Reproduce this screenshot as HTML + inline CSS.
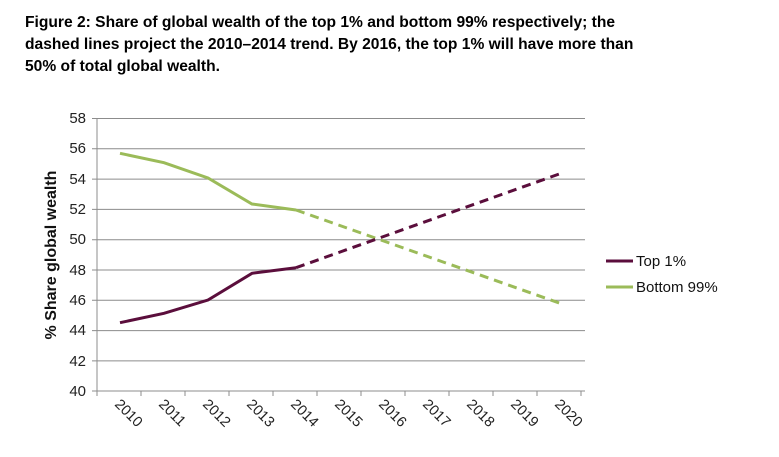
<!DOCTYPE html>
<html><head><style>
body{margin:0;background:#fff;width:779px;height:457px;overflow:hidden;font-family:"Liberation Sans",Arial,sans-serif}
.t{position:absolute;left:25px;top:12px;font-weight:bold;font-size:15.6px;line-height:22px;color:#000;white-space:nowrap}
</style></head><body>
<div class="t">Figure 2: Share of global wealth of the top 1% and bottom 99% respectively; the<br>dashed lines project the 2010–2014 trend. By 2016, the top 1% will have more than<br>50% of total global wealth.</div>
<svg width="779" height="457" style="position:absolute;left:0;top:0" font-family="Liberation Sans,Arial,sans-serif">
<g stroke="#8c8c8c" stroke-width="1">
<line x1="92" y1="118.5" x2="585" y2="118.5"/><line x1="92" y1="148.8" x2="585" y2="148.8"/>
<line x1="92" y1="179.1" x2="585" y2="179.1"/><line x1="92" y1="209.4" x2="585" y2="209.4"/>
<line x1="92" y1="239.7" x2="585" y2="239.7"/><line x1="92" y1="270" x2="585" y2="270"/>
<line x1="92" y1="300.3" x2="585" y2="300.3"/><line x1="92" y1="330.6" x2="585" y2="330.6"/>
<line x1="92" y1="360.9" x2="585" y2="360.9"/><line x1="92" y1="391" x2="585" y2="391"/>
<line x1="97" y1="118" x2="97" y2="391"/>
<line x1="97" y1="391" x2="97" y2="396"/><line x1="141" y1="391" x2="141" y2="396"/><line x1="185" y1="391" x2="185" y2="396"/><line x1="229" y1="391" x2="229" y2="396"/><line x1="273" y1="391" x2="273" y2="396"/><line x1="317" y1="391" x2="317" y2="396"/><line x1="361" y1="391" x2="361" y2="396"/><line x1="405" y1="391" x2="405" y2="396"/><line x1="449" y1="391" x2="449" y2="396"/><line x1="493" y1="391" x2="493" y2="396"/><line x1="537" y1="391" x2="537" y2="396"/><line x1="581" y1="391" x2="581" y2="396"/>
</g>
<g font-size="15" fill="#222" text-anchor="end">
<text x="86" y="123">58</text><text x="86" y="153">56</text><text x="86" y="184">54</text><text x="86" y="214">52</text><text x="86" y="244">50</text><text x="86" y="275">48</text><text x="86" y="305">46</text><text x="86" y="335">44</text><text x="86" y="366">42</text><text x="86" y="396">40</text>
</g>
<g font-size="14.5" fill="#222">
<text transform="translate(114,405) rotate(45)">2010</text><text transform="translate(158,405) rotate(45)">2011</text><text transform="translate(202,405) rotate(45)">2012</text><text transform="translate(246,405) rotate(45)">2013</text><text transform="translate(290,405) rotate(45)">2014</text><text transform="translate(334,405) rotate(45)">2015</text><text transform="translate(378,405) rotate(45)">2016</text><text transform="translate(422,405) rotate(45)">2017</text><text transform="translate(466,405) rotate(45)">2018</text><text transform="translate(510,405) rotate(45)">2019</text><text transform="translate(554,405) rotate(45)">2020</text>
</g>
<text transform="translate(56,255) rotate(-90)" text-anchor="middle" font-size="16" font-weight="bold" fill="#111">% Share global wealth</text>
<polyline points="120,153.3 164,162.7 208,178 252,204 296,210" fill="none" stroke="#9bbb59" stroke-width="3"/>
<line x1="296" y1="210" x2="562" y2="304" stroke="#9bbb59" stroke-width="3" stroke-dasharray="9,6"/>
<polyline points="120,322.7 164,313.3 208,300 252,273.3 296,267.7" fill="none" stroke="#5b0e3c" stroke-width="3"/>
<line x1="296" y1="267.7" x2="562" y2="173" stroke="#5b0e3c" stroke-width="3" stroke-dasharray="9,6"/>
<line x1="606" y1="261" x2="633" y2="261" stroke="#5b0e3c" stroke-width="3"/>
<line x1="606" y1="287" x2="633" y2="287" stroke="#9bbb59" stroke-width="3"/>
<g font-size="15" fill="#111"><text x="636" y="266">Top 1%</text><text x="636" y="292">Bottom 99%</text></g>
</svg>
</body></html>
